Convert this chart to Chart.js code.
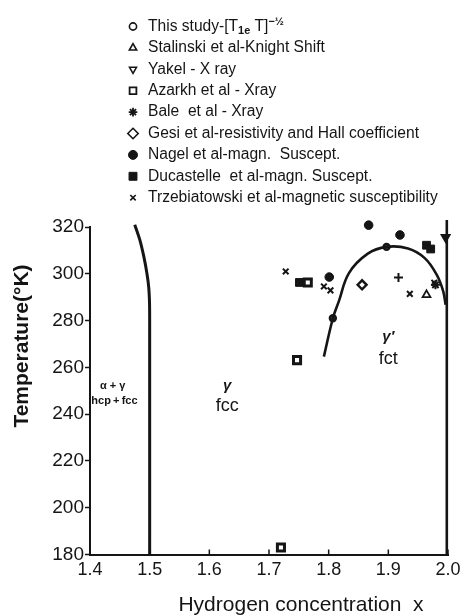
<!DOCTYPE html>
<html>
<head>
<meta charset="utf-8">
<script src="https://cdn.jsdelivr.net/npm/chart.js@4/dist/chart.umd.min.js"></script>
<style>
  html, body { margin: 0; padding: 0; background: #fff; }
</style>
</head>
<body>
<canvas id="phase" width="466" height="616"></canvas>
<script>
// axis ticks
var xTicks = [1.4, 1.5, 1.6, 1.7, 1.8, 1.9, 2.0];
var yTicks = [180, 200, 220, 240, 260, 280, 300, 320];

// phase boundaries (x = H concentration, T in K)
var alphaEdgeX = [1.475, 1.4835, 1.4905, 1.4955, 1.4985, 1.4998, 1.5, 1.5];
var alphaEdgeT = [321, 314.5, 307, 300, 294, 287, 278, 180];
var domeX = [1.792, 1.807, 1.817, 1.834, 1.865, 1.897, 1.933, 1.961, 1.981, 1.992, 1.996];
var domeT = [264.6, 280.9, 288.2, 300.3, 308.5, 311.5, 310.8, 306.7, 299.6, 292.5, 286.8];
var dihydrideX = [1.998, 1.998];
var dihydrideT = [180, 323];

// measured transition points
var thisStudyX = [1.807, 1.897];
var thisStudyT = [281, 311.5];
var stalinskiX = [1.964];
var stalinskiT = [291];
var yakelX = [1.996];
var yakelT = [315.6];
var azarkhX = [1.765, 1.747, 1.72];
var azarkhT = [296.3, 263.1, 183];
var baleX = [1.917, 1.979];
var baleT = [298.4, 295.3];
var gesiX = [1.856];
var gesiT = [295.3];
var nagelX = [1.801, 1.867, 1.9195];
var nagelT = [298.6, 320.8, 316.6];
var ducastelleX = [1.751, 1.964, 1.971];
var ducastelleT = [296.3, 312.2, 310.6];
var trzebX = [1.728, 1.792, 1.803, 1.936, 1.977];
var trzebT = [301, 294.6, 292.9, 291.4, 296.2];

// legend text; _{..} is subscript, ^{..} superscript
var seriesLabels = [
  'This study-[T_{1e} T]^{\u2212\u00bd}',
  'Stalinski et al-Knight Shift',
  'Yakel - X ray',
  'Azarkh et al - Xray',
  'Bale  et al - Xray',
  'Gesi et al-resistivity and Hall coefficient',
  'Nagel et al-magn.  Suscept.',
  'Ducastelle  et al-magn. Suscept.',
  'Trzebiatowski et al-magnetic susceptibility'
];

// phase region names
var regionText = ['\u03b1 + \u03b3', 'hcp\u2009+\u2009fcc', '\u03b3', 'fcc', '\u03b3\u2032', 'fct'];
var regionX = [1.438, 1.441, 1.63, 1.63, 1.90, 1.90];
var regionT = [252, 245.5, 252, 243.3, 273, 263.4];

var INK = '#151515';
var FONT = '"Liberation Sans", Arial, sans-serif';

function pts(xs, ts) {
  return xs.map(function (x, i) { return { x: x, y: ts[i] }; });
}

function curve(xs, ts, width, tension) {
  return {
    data: pts(xs, ts), showLine: true, pointRadius: 0, borderColor: INK,
    borderWidth: width, tension: tension, fill: false, clip: false
  };
}

function marks(i, xs, ts, style, radius, fill, border) {
  return {
    label: seriesLabels[i], legendRow: i, data: pts(xs, ts),
    pointStyle: style, pointRadius: radius, pointBackgroundColor: fill,
    pointBorderColor: INK, pointBorderWidth: border, showLine: false, clip: false
  };
}

var bale = marks(4, baleX, baleT, ['cross', 'star'], 4.5, INK, 2);
var yakel = marks(2, yakelX, yakelT, 'triangle', 4.5, INK, 2);
yakel.pointRotation = 180;

var datasets = [
  curve(alphaEdgeX, alphaEdgeT, 3, 0.3),
  curve(domeX, domeT, 2.6, 0.4),
  curve(dihydrideX, dihydrideT, 2.6, 0),
  marks(0, thisStudyX, thisStudyT, 'circle', 3, '#444', 2.4),
  marks(1, stalinskiX, stalinskiT, 'triangle', 4.5, '#fff', 1.8),
  yakel,
  marks(3, azarkhX, azarkhT, 'rect', 5, '#fff', 3),
  bale,
  marks(5, gesiX, gesiT, 'rectRot', 4.5, '#fff', 2.4),
  marks(6, nagelX, nagelT, 'circle', 4.3, INK, 1),
  marks(7, ducastelleX, ducastelleT, 'rect', 5.5, INK, 1),
  marks(8, trzebX, trzebT, 'crossRot', 4, INK, 2)
];

// legend symbols, one entry per row in the top band
var legendSymbols = {
  0: { pointStyle: 'circle', radius: 3.6, fill: '#fff', width: 1.6 },
  1: { pointStyle: 'triangle', radius: 4.2, fill: '#fff', width: 1.6 },
  2: { pointStyle: 'triangle', radius: 4.0, fill: '#fff', width: 1.6, rotation: 180 },
  3: { pointStyle: 'rect', radius: 4.8, fill: '#fff', width: 1.8 },
  4: { pointStyle: 'star', radius: 4.3, fill: INK, width: 1.8 },
  5: { pointStyle: 'rectRot', radius: 5.2, fill: '#fff', width: 1.6 },
  6: { pointStyle: 'circle', radius: 4.5, fill: INK, width: 1 },
  7: { pointStyle: 'rect', radius: 5.6, fill: INK, width: 1 },
  8: { pointStyle: 'crossRot', radius: 3.8, fill: INK, width: 1.6 }
};

function drawRich(ctx, text, x, y, size) {
  var re = /([_^])\{([^}]*)\}/g, parts = [], last = 0, m;
  while ((m = re.exec(text))) {
    if (m.index > last) parts.push([text.slice(last, m.index), 0]);
    parts.push([m[2], m[1] === '_' ? 1 : -1]);
    last = re.lastIndex;
  }
  if (last < text.length) parts.push([text.slice(last), 0]);
  parts.forEach(function (p) {
    var s = p[1] ? size * 0.7 : size;
    ctx.font = (p[1] ? 'bold ' : '') + s + 'px ' + FONT;
    ctx.fillText(p[0], x, y + p[1] * size * 0.32);
    x += ctx.measureText(p[0]).width;
  });
}

var decorations = {
  id: 'decorations',
  afterDraw: function (chart) {
    var ctx = chart.ctx, xs = chart.scales.x, ys = chart.scales.y, area = chart.chartArea;
    ctx.save();
    ctx.fillStyle = INK;
    ctx.strokeStyle = INK;

    // inward ticks on the concentration axis
    ctx.lineWidth = 1.5;
    xTicks.forEach(function (v) {
      var px = xs.getPixelForValue(v);
      ctx.beginPath();
      ctx.moveTo(px, area.bottom);
      ctx.lineTo(px, area.bottom - 5);
      ctx.stroke();
    });

    // legend
    ctx.textBaseline = 'middle';
    ctx.textAlign = 'left';
    chart.data.datasets.forEach(function (ds) {
      if (ds.legendRow === undefined) return;
      var sym = legendSymbols[ds.legendRow];
      var y = 26.5 + ds.legendRow * 21.4;
      ctx.fillStyle = sym.fill;
      ctx.lineWidth = sym.width;
      Chart.helpers.drawPoint(ctx, {
        pointStyle: sym.pointStyle, radius: sym.radius,
        rotation: sym.rotation || 0, borderWidth: sym.width
      }, 133, y);
      ctx.fillStyle = INK;
      drawRich(ctx, ds.label, 148, y, 15.6);
    });

    // phase region names
    ctx.textAlign = 'center';
    regionText.forEach(function (t, i) {
      var small = i < 2;
      ctx.font = (small ? 'bold 11px ' : (i % 2 === 0 ? 'italic bold 15px ' : '18px ')) + FONT;
      ctx.fillText(t, xs.getPixelForValue(regionX[i]), ys.getPixelForValue(regionT[i]));
    });

    // axis titles
    ctx.font = '21px ' + FONT;
    ctx.fillText('Hydrogen concentration  x', 301, 605);
    ctx.save();
    ctx.translate(22, 346);
    ctx.rotate(-Math.PI / 2);
    ctx.font = 'bold 21px ' + FONT;
    ctx.fillText('Temperature(\u00b0K)', 0, 0);
    ctx.restore();

    ctx.restore();
  }
};

new Chart(document.getElementById('phase').getContext('2d'), {
  type: 'scatter',
  data: { datasets: datasets },
  plugins: [decorations],
  options: {
    responsive: false,
    animation: false,
    devicePixelRatio: 1,
    layout: { padding: { top: 227, right: 18, left: 0, bottom: 0 } },
    plugins: { legend: { display: false }, tooltip: { enabled: false } },
    scales: {
      x: {
        type: 'linear', min: 1.4, max: 2.0,
        afterBuildTicks: function (s) { s.ticks = xTicks.map(function (v) { return { value: v }; }); },
        afterFit: function (s) { s.height = 61.5; },
        grid: { drawOnChartArea: false, drawTicks: false },
        border: { color: INK, width: 2 },
        ticks: {
          padding: 5, color: INK, maxRotation: 0,
          font: { family: FONT, size: 18 },
          callback: function (v) { return v.toFixed(1); }
        }
      },
      y: {
        min: 180, max: 320,
        afterBuildTicks: function (s) { s.ticks = yTicks.map(function (v) { return { value: v }; }); },
        afterFit: function (s) { s.width = 90; },
        grid: { drawOnChartArea: false, tickLength: 5, tickColor: INK, tickWidth: 1.5 },
        border: { color: INK, width: 2 },
        ticks: { padding: 1, color: INK, font: { family: FONT, size: 19 } }
      }
    }
  }
});
</script>
</body>
</html>
